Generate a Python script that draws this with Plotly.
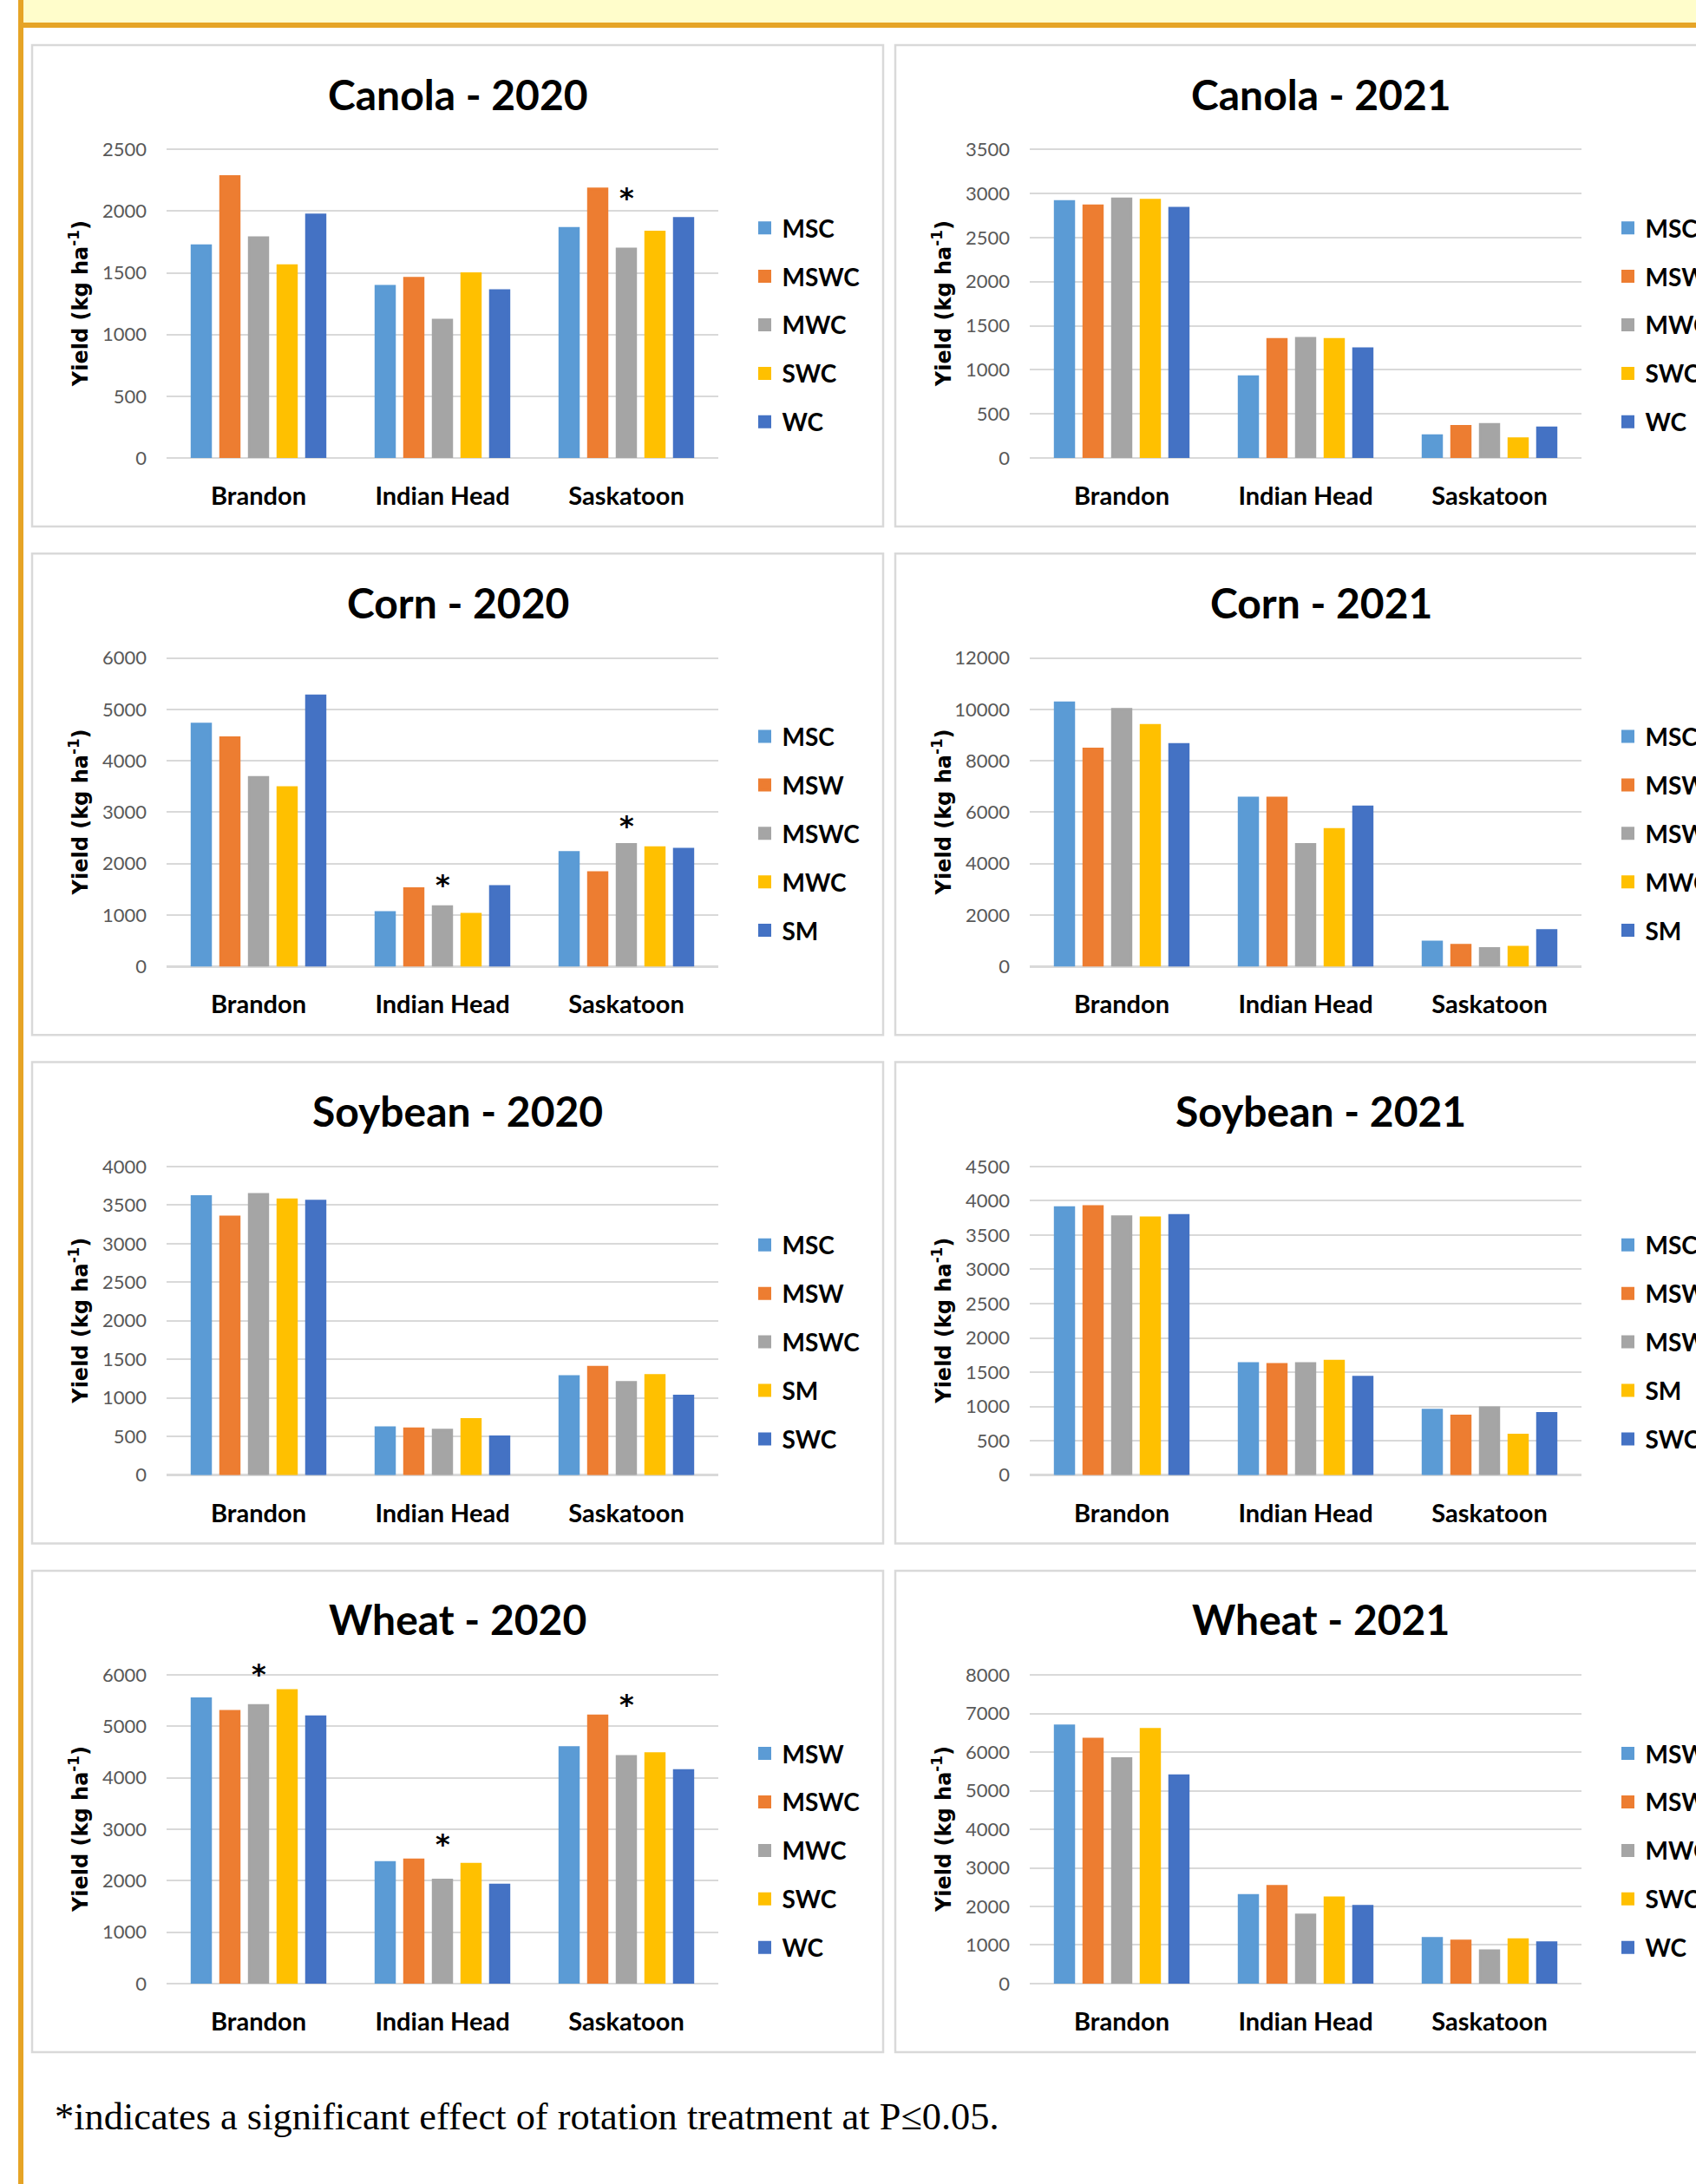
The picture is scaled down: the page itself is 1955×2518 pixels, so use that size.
import plotly.graph_objects as go

W, H = 1955, 2518

SITES = ["Brandon", "Indian Head", "Saskatoon"]
SERIES_COLORS = ["#5B9BD5", "#ED7D31", "#A5A5A5", "#FFC000", "#4472C4"]

# ---- yields (kg/ha); rows follow the rotation list, columns follow SITES ----
canola_rotations = ["MSC", "MSWC", "MWC", "SWC", "WC"]
canola_2020 = [
    [1720, 1392, 1861],
    [2281, 1456, 2181],
    [1786, 1117, 1694],
    [1558, 1494, 1831],
    [1970, 1356, 1942],
]
canola_2021 = [
    [2909, 922, 253],
    [2862, 1346, 358],
    [2940, 1357, 381],
    [2924, 1346, 218],
    [2835, 1241, 342],
]

corn_rotations = ["MSC", "MSW", "MSWC", "MWC", "SM"]
corn_2020 = [
    [4715, 1050, 2221],
    [4448, 1514, 1826],
    [3678, 1164, 2373],
    [3481, 1018, 2310],
    [5262, 1559, 2284],
]
corn_2021 = [
    [10256, 6553, 954],
    [8462, 6553, 827],
    [10002, 4746, 700],
    [9378, 5332, 751],
    [8640, 6210, 1400],
]

soybean_rotations = ["MSC", "MSW", "MSWC", "SM", "SWC"]
soybean_2020 = [
    [3611, 614, 1278],
    [3348, 601, 1397],
    [3640, 584, 1202],
    [3568, 720, 1291],
    [3551, 495, 1024],
]
soybean_2021 = [
    [3901, 1628, 948],
    [3916, 1613, 862],
    [3767, 1628, 981],
    [3753, 1661, 584],
    [3787, 1427, 900],
]

wheat_rotations = ["MSW", "MSWC", "MWC", "SWC", "WC"]
wheat_2020 = [
    [5541, 2356, 4592],
    [5293, 2405, 5208],
    [5408, 2012, 4417],
    [5698, 2320, 4471],
    [5190, 1915, 4145],
]
wheat_2021 = [
    [6684, 2287, 1171],
    [6339, 2520, 1107],
    [5833, 1781, 851],
    [6596, 2223, 1139],
    [5392, 2006, 1059],
]

# significance markers: (site, yield level of the asterisk)
canola_2020_sig = [("Saskatoon", 2142)]
corn_2020_sig = [("Indian Head", 1673), ("Saskatoon", 2819)]
wheat_2020_sig = [("Brandon", 6102), ("Indian Head", 2797), ("Saskatoon", 5516)]

# y-axis extents (top gridline) and tick steps per chart
y_max = [2500, 3500, 6000, 12000, 4000, 4500, 6000, 8000]
y_step = [500, 500, 1000, 2000, 500, 500, 1000, 1000]

charts = [
    ("Canola - 2020", canola_rotations, canola_2020, canola_2020_sig),
    ("Canola - 2021", canola_rotations, canola_2021, []),
    ("Corn - 2020", corn_rotations, corn_2020, corn_2020_sig),
    ("Corn - 2021", corn_rotations, corn_2021, []),
    ("Soybean - 2020", soybean_rotations, soybean_2020, []),
    ("Soybean - 2021", soybean_rotations, soybean_2021, []),
    ("Wheat - 2020", wheat_rotations, wheat_2020, wheat_2020_sig),
    ("Wheat - 2021", wheat_rotations, wheat_2021, []),
]

FOOTNOTE = "*indicates a significant effect of rotation treatment at P\u22640.05."

# ---- page geometry (pixels) ----
PANEL_LEFT = [37, 1032]
PANEL_W = 981
PANEL_TOP0 = 52
ROW_PITCH = 586.3
PANEL_H = 555
PLOT_DX = 155
PLOT_W = 636
PLOT_TOP_DY = 120.3      # top gridline
PLOT_BOT_DY = 476.0      # zero line
HEADROOM = 1.1           # value axis runs a little past the top gridline

GRID = "#D9D9D9"
ORANGE = "#E6A426"
CREAM = "#FFFDCB"
SANS = "Lato"


def px_x(x):
    return x / W


def px_y(y):
    return 1 - y / H


fig = go.Figure()
shapes = []
annotations = []
layout_axes = {}
legends = {}

# page decoration: cream header strip and orange rules
shapes.append(dict(type="rect", xref="paper", yref="paper", layer="below",
                   x0=px_x(27), x1=1, y0=px_y(0), y1=px_y(26),
                   fillcolor=CREAM, line=dict(width=0)))
shapes.append(dict(type="rect", xref="paper", yref="paper", layer="below",
                   x0=px_x(21), x1=1, y0=px_y(26), y1=px_y(32),
                   fillcolor=ORANGE, line=dict(width=0)))
shapes.append(dict(type="rect", xref="paper", yref="paper", layer="below",
                   x0=px_x(21), x1=px_x(27), y0=0, y1=1,
                   fillcolor=ORANGE, line=dict(width=0)))

for k, (title, rotations, values, sig) in enumerate(charts):
    idx = k + 1
    row, col = divmod(k, 2)
    left = PANEL_LEFT[col]
    top = PANEL_TOP0 + row * ROW_PITCH
    plot_l = left + PLOT_DX
    plot_r = plot_l + PLOT_W
    plot_b = top + PLOT_BOT_DY
    plot_t = plot_b - (PLOT_BOT_DY - PLOT_TOP_DY) * HEADROOM
    xa = "x" if idx == 1 else f"x{idx}"
    ya = "y" if idx == 1 else f"y{idx}"
    leg = "legend" if idx == 1 else f"legend{idx}"

    # panel frame
    shapes.append(dict(type="rect", xref="paper", yref="paper", layer="below",
                       x0=px_x(left), x1=px_x(left + PANEL_W),
                       y0=px_y(top + PANEL_H), y1=px_y(top),
                       fillcolor="white", line=dict(color=GRID, width=2.5)))

    for j, rot in enumerate(rotations):
        fig.add_trace(go.Bar(
            x=SITES, y=values[j], name=rot,
            marker=dict(color=SERIES_COLORS[j],
                        line=dict(color=SERIES_COLORS[j], width=3)),
            xaxis=xa, yaxis=ya, legend=leg,
            legendgroup=f"{idx}-{rot}",
            hovertemplate=f"{rot}<br>%{{x}}: %{{y}}<extra></extra>",
        ))

    # significance asterisks
    for site, level in sig:
        annotations.append(dict(
            text="*", xref=xa, yref=ya, x=site, y=level,
            xanchor="center", yanchor="middle", yshift=-5, showarrow=False,
            font=dict(family="DejaVu Sans", size=32, color="black",
                      weight="bold"),
        ))

    xkey = "xaxis" if idx == 1 else f"xaxis{idx}"
    ykey = "yaxis" if idx == 1 else f"yaxis{idx}"
    layout_axes[xkey] = dict(
        domain=[px_x(plot_l), px_x(plot_r)], anchor=ya,
        type="category", showgrid=False, zeroline=False, showline=False,
        ticks="", ticklabelstandoff=24,
        tickfont=dict(family=SANS, size=29, color="black", weight="bold"),
        fixedrange=True,
    )
    layout_axes[ykey] = dict(
        domain=[px_y(plot_b), px_y(plot_t)], anchor=xa,
        range=[0, y_max[k] * HEADROOM], tick0=0, dtick=y_step[k],
        tickformat="d",
        showgrid=True, gridcolor=GRID, gridwidth=2,
        zeroline=True, zerolinecolor=GRID, zerolinewidth=2.5,
        showline=False, ticks="", ticklabelstandoff=22,
        tickfont=dict(family=SANS, size=22, color="#595959"),
        fixedrange=True,
    )

    legends[leg] = dict(
        x=px_x(plot_r + 33.5), xanchor="left",
        y=px_y(top + 322.5), yanchor="middle",
        xref="paper", yref="paper",
        traceorder="grouped", tracegroupgap=16.5,
        bgcolor="rgba(0,0,0,0)", borderwidth=0,
        font=dict(family=SANS, size=28, color="black", weight="bold"),
    )

    # chart title
    annotations.append(dict(
        text=title, xref="paper", yref="paper",
        x=px_x(left + PANEL_W / 2), y=px_y(top + 56),
        xanchor="center", yanchor="middle", showarrow=False,
        font=dict(family=SANS, size=48, color="black", weight="bold"),
    ))
    # y-axis title, centred on the span between zero and the top gridline
    annotations.append(dict(
        text="Yield (kg ha<sup>-1</sup>)", xref="paper", yref="paper",
        x=px_x(left + 54), y=px_y(top + (PLOT_TOP_DY + PLOT_BOT_DY) / 2),
        xanchor="center", yanchor="middle", textangle=-90, showarrow=False,
        font=dict(family="DejaVu Sans", size=24, color="black", weight="bold"),
    ))

annotations.append(dict(
    text=FOOTNOTE, xref="paper", yref="paper",
    x=px_x(61), y=px_y(2440), xanchor="left", yanchor="middle",
    showarrow=False,
    font=dict(family="Liberation Serif", size=44.4, color="black"),
))

fig.update_layout(
    width=W, height=H,
    margin=dict(l=0, r=0, t=0, b=0, autoexpand=False),
    paper_bgcolor="white", plot_bgcolor="rgba(0,0,0,0)",
    barmode="group", bargap=0.222, bargroupgap=0.35,
    shapes=shapes, annotations=annotations,
    **layout_axes, **legends,
)

fig.write_html(
    "out.html",
    config={"displayModeBar": False, "staticPlot": True},
    post_script="document.body.style.margin='0';document.body.style.overflow='hidden';",
)
